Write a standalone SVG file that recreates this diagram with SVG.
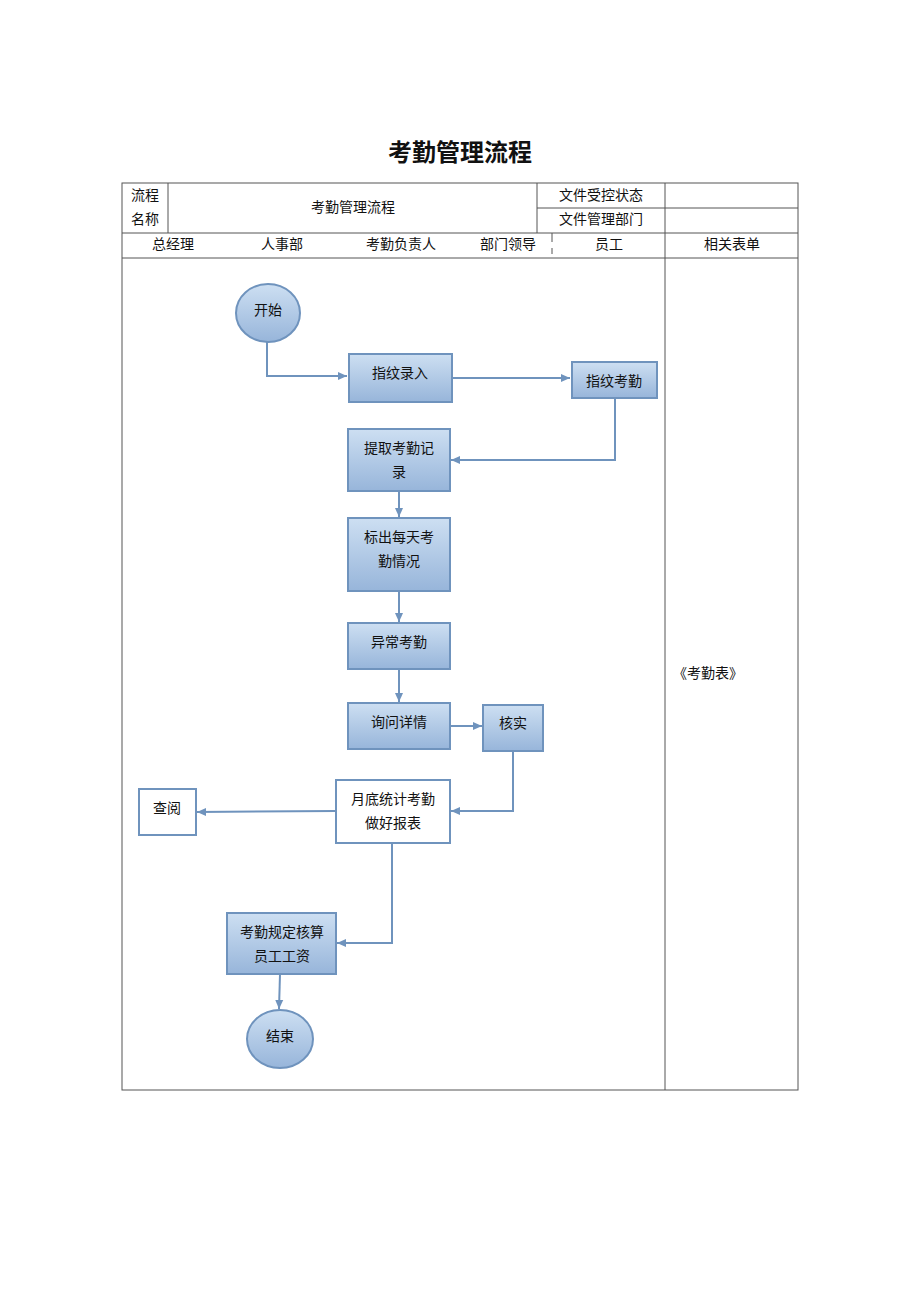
<svg xmlns="http://www.w3.org/2000/svg" width="920" height="1302" viewBox="0 0 920 1302">
<style>
text{font-family:"Liberation Serif","Noto Sans CJK SC",serif;font-size:14px;fill:#111;text-anchor:middle;dominant-baseline:middle}
.title{font-family:"Liberation Sans","Noto Sans CJK SC",sans-serif;font-size:24px;font-weight:bold}
.tbl{stroke:#555;stroke-width:1;fill:none}
.box{fill:url(#g);stroke:#6f93bd;stroke-width:2}
.wbox{fill:#fff;stroke:#6f93bd;stroke-width:2}
.c{fill:none;stroke:#6f93bd;stroke-width:2;marker-end:url(#a)}
</style>
<defs>
<linearGradient id="g" x1="0" y1="0" x2="0" y2="1">
<stop offset="0" stop-color="#cddff2"/>
<stop offset="1" stop-color="#97b5da"/>
</linearGradient>
<marker id="a" markerWidth="10" markerHeight="10" refX="9" refY="5" orient="auto" markerUnits="userSpaceOnUse">
<path d="M0,1 L9,5 L0,9 Z" fill="#6f93bd"/>
</marker>
</defs>
<rect width="920" height="1302" fill="#fff"/>
<text class="title" x="460" y="155">考勤管理流程</text>
<g id="table">
<rect class="tbl" x="122" y="183" width="676" height="907"/>
<line class="tbl" x1="168" y1="183" x2="168" y2="233"/>
<line class="tbl" x1="537" y1="183" x2="537" y2="233"/>
<line class="tbl" x1="537" y1="208" x2="798" y2="208"/>
<line class="tbl" x1="665" y1="183" x2="665" y2="1090"/>
<line class="tbl" x1="122" y1="233" x2="798" y2="233"/>
<line class="tbl" x1="122" y1="258" x2="798" y2="258"/>
<line class="tbl" x1="552" y1="233" x2="552" y2="254" stroke-dasharray="9,6"/>
<text x="145" y="197">流程</text>
<text x="145" y="221">名称</text>
<text x="353" y="209">考勤管理流程</text>
<text x="601" y="197">文件受控状态</text>
<text x="601" y="221">文件管理部门</text>
<text x="173" y="246">总经理</text>
<text x="282" y="246">人事部</text>
<text x="401" y="246">考勤负责人</text>
<text x="508" y="246">部门领导</text>
<text x="609" y="246">员工</text>
<text x="732" y="246">相关表单</text>
<text x="708" y="675">《考勤表》</text>
</g>
<g id="connectors">
<path class="c" d="M267,342 V376 H347"/>
<path class="c" d="M452,378 H570"/>
<path class="c" d="M615,398 V460 H451"/>
<path class="c" d="M399,491 V517"/>
<path class="c" d="M399,591 V622"/>
<path class="c" d="M399,669 V702"/>
<path class="c" d="M450,726 H482"/>
<path class="c" d="M513,751 V811 H451"/>
<path class="c" d="M336,811 L197,812"/>
<path class="c" d="M392,843 V943 H337"/>
<path class="c" d="M280,974 L279,1009"/>
</g>
<g id="start"><ellipse class="box" cx="268" cy="313" rx="32" ry="29"/><text x="268" y="312">开始</text></g>
<g id="n1"><rect class="box" x="349" y="354" width="103" height="48"/><text x="400" y="375">指纹录入</text></g>
<g id="n2"><rect class="box" x="572" y="362" width="85" height="36"/><text x="614" y="383">指纹考勤</text></g>
<g id="n3"><rect class="box" x="348" y="429" width="102" height="62"/><text x="399" y="450">提取考勤记</text><text x="399" y="474">录</text></g>
<g id="n4"><rect class="box" x="348" y="518" width="102" height="73"/><text x="399" y="539">标出每天考</text><text x="399" y="563">勤情况</text></g>
<g id="n5"><rect class="box" x="348" y="623" width="102" height="46"/><text x="399" y="644">异常考勤</text></g>
<g id="n6"><rect class="box" x="348" y="703" width="102" height="46"/><text x="399" y="724">询问详情</text></g>
<g id="n7"><rect class="box" x="483" y="705" width="60" height="46"/><text x="513" y="725">核实</text></g>
<g id="n8"><rect class="wbox" x="336" y="780" width="114" height="63"/><text x="393" y="801">月底统计考勤</text><text x="393" y="825">做好报表</text></g>
<g id="n9"><rect class="wbox" x="139" y="789" width="57" height="46"/><text x="167" y="810">查阅</text></g>
<g id="n10"><rect class="box" x="227" y="913" width="109" height="61"/><text x="282" y="934">考勤规定核算</text><text x="282" y="958">员工工资</text></g>
<g id="end"><ellipse class="box" cx="280" cy="1039" rx="33" ry="29"/><text x="280" y="1038">结束</text></g>
</svg>
